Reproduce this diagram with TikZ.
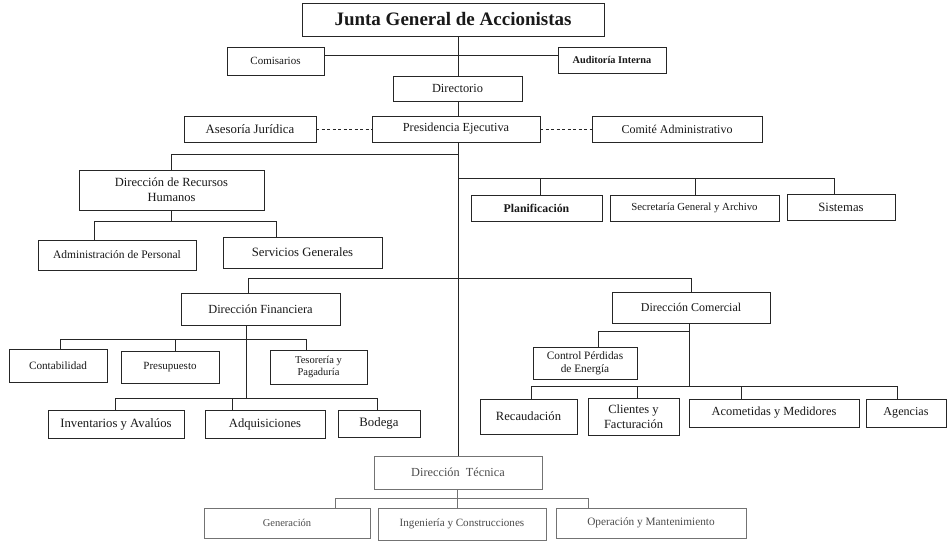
\documentclass[tikz,border=0pt]{standalone}
\usepackage{fontspec}
\setmainfont{Liberation Serif}
\tikzset{
  box/.style={draw=black!85, line width=0.75pt, fill=white, inner sep=1pt, outer sep=0pt,
    align=center, text=black!90},
  fs/.style={font=\fontsize{#1}{#1}\selectfont},
  fs2/.style 2 args={font=\fontsize{#1}{#2}\selectfont},
  faint/.style={draw=black!55, text=black!70},
  ln/.style={draw=black!85, line width=0.75pt},
  fln/.style={draw=black!55, line width=0.75pt},
  dl/.style={ln, dash pattern=on 3pt off 2.5pt},
}
\newcommand\obox[7][]{%
  \node[box,#1,minimum width={(#5-#3)*1pt},minimum height={(#6-#4)*1pt}]
    (#2) at ({(#3+#5)/2},{(#4+#6)/2}) {#7};}
\begin{document}
\begin{tikzpicture}[x=1pt,y=-1pt]
\useasboundingbox (0,0) rectangle (948,542);

% ---- boxes ----
\obox[fs=19,font=\fontsize{19}{20}\selectfont\bfseries]{junta}{302}{3}{604}{36}{Junta General de Accionistas}
\obox[fs=11]{com}{227}{47}{324}{75}{Comisarios}
\obox[font=\fontsize{10.3}{11}\selectfont\bfseries]{aud}{558}{47}{666}{73}{Auditoría Interna}
\obox[fs=12.4]{dir}{393}{76}{522}{101}{Directorio}
\obox[fs=12.8]{ase}{184}{116}{316}{142}{Asesoría Jurídica}
\obox[fs=12.3]{pres}{372}{116}{540}{142}{Presidencia Ejecutiva}
\obox[fs=12]{comi}{592}{116}{762}{142}{Comité Administrativo}

\obox[fs2={12.5}{15}]{drh}{79}{170}{264}{210}{Dirección de Recursos\\Humanos}
\obox[fs=11.5]{adm}{38}{240}{196}{270}{Administración de Personal}
\obox[fs=12.7]{serv}{223}{237}{382}{268}{Servicios Generales}

\obox[font=\fontsize{11.8}{12}\selectfont\bfseries]{plan}{471}{195}{602}{221}{Planificación}
\obox[fs=10.8]{sec}{610}{195}{779}{221}{Secretaría General y Archivo}
\obox[fs=12.7]{sis}{787}{194}{895}{220}{Sistemas}

\obox[fs=12.4]{df}{181}{293}{340}{325}{Dirección Financiera}
\obox[fs=11.2]{cont}{9}{349}{107}{382}{Contabilidad}
\obox[fs=11]{presu}{121}{351}{219}{383}{Presupuesto}
\obox[fs2={10.5}{12}]{tes}{270}{350}{367}{384}{Tesorería y\\Pagaduría}
\obox[fs=12.7]{inv}{48}{410}{184}{438}{Inventarios y Avalúos}
\obox[fs=12.6]{adq}{205}{410}{325}{438}{Adquisiciones}
\obox[fs=12.8]{bod}{338}{410}{420}{437}{Bodega}

\obox[fs=12]{dc}{612}{292}{770}{323}{Dirección Comercial}
\obox[fs2={11.3}{13}]{cpe}{533}{347}{637}{379}{Control Pérdidas\\de Energía}
\obox[fs=12.6]{rec}{480}{399}{577}{434}{Recaudación}
\obox[fs2={12.5}{15}]{cli}{588}{398}{679}{435}{Clientes y\\Facturación}
\obox[fs=12.4]{aco}{689}{399}{859}{427}{Acometidas y Medidores}
\obox[fs=12.1]{age}{866}{399}{946}{427}{Agencias}

\obox[faint,fs=12.3]{tec}{374}{456}{542}{489}{Dirección\ \ Técnica}
\obox[faint,fs=10.5]{gen}{204}{508}{370}{538}{Generación}
\obox[faint,fs=11.1]{ing}{378}{508}{546}{540}{Ingeniería y Construcciones}
\obox[faint,fs=11.3]{ope}{556}{508}{746}{538}{Operación y Mantenimiento}

% ---- coordinates ----
\coordinate (T) at (458,0);
\coordinate (b1) at (458,154);
\coordinate (b2) at (458,178);
\coordinate (h1) at (94,221);
\coordinate (h2) at (276,221);
\coordinate (m1) at (248,278);
\coordinate (m2) at (691,278);
\coordinate (fa) at (246,339);
\coordinate (f1) at (60,339);
\coordinate (f2) at (175,339);
\coordinate (f3) at (306,339);
\coordinate (fb) at (246,398);
\coordinate (g1) at (115,398);
\coordinate (g2) at (232,398);
\coordinate (g3) at (377,398);
\coordinate (ka) at (689,331);
\coordinate (k0) at (598,331);
\coordinate (kb) at (689,386);
\coordinate (r1) at (531,386);
\coordinate (r2) at (637,386);
\coordinate (r3) at (741,386);
\coordinate (r4) at (897,386);
\coordinate (ta) at (457,498);
\coordinate (t1) at (335,498);
\coordinate (t3) at (588,498);
\coordinate (p1) at (540,178);
\coordinate (p2) at (695,178);
\coordinate (p3) at (834,178);

% ---- connectors ----
\draw[ln] (junta.south -| T) -- (dir.north -| T);
\draw[ln] ([yshift=6pt]com.east) -- ([yshift=5pt]aud.west);
\draw[ln] (dir.south -| T) -- (pres.north -| T);
\draw[ln] (pres.south -| T) -- (tec.north -| T);
\draw[dl] (ase.east) -- (pres.west);
\draw[dl] (pres.east) -- (comi.west);

\draw[ln] (b1) -| (drh.north);
\draw[ln] (b2) -- (p3) -- (p3 |- sis.north);
\draw[ln] (p1) -- (p1 |- plan.north);
\draw[ln] (p2) -- (p2 |- sec.north);

\draw[ln] (drh.south) -- (drh.south |- h1);
\draw[ln] (h1) -- (h2);
\draw[ln] (h1) -- (h1 |- adm.north);
\draw[ln] (h2) -- (h2 |- serv.north);

\draw[ln] (m1) -- (m2);
\draw[ln] (m1) -- (m1 |- df.north);
\draw[ln] (m2) -- (m2 |- dc.north);

\draw[ln] (fa |- df.south) -- (fb);
\draw[ln] (f1) -- (f3);
\draw[ln] (f1) -- (f1 |- cont.north);
\draw[ln] (f2) -- (f2 |- presu.north);
\draw[ln] (f3) -- (f3 |- tes.north);
\draw[ln] (g1) -- (g3);
\draw[ln] (g1) -- (g1 |- inv.north);
\draw[ln] (g2) -- (g2 |- adq.north);
\draw[ln] (g3) -- (g3 |- bod.north);

\draw[ln] (ka |- dc.south) -- (kb);
\draw[ln] (ka) -- (k0) -- (k0 |- cpe.north);
\draw[ln] (r1) -- (r4);
\draw[ln] (r1) -- (r1 |- rec.north);
\draw[ln] (r2) -- (r2 |- cli.north);
\draw[ln] (r3) -- (r3 |- aco.north);
\draw[ln] (r4) -- (r4 |- age.north);

\draw[fln] (ta |- tec.south) -- (ta);
\draw[fln] (t1) -- (t3);
\draw[fln] (t1) -- (t1 |- gen.north);
\draw[fln] (ta) -- (ta |- ing.north);
\draw[fln] (t3) -- (t3 |- ope.north);
\end{tikzpicture}
\end{document}
